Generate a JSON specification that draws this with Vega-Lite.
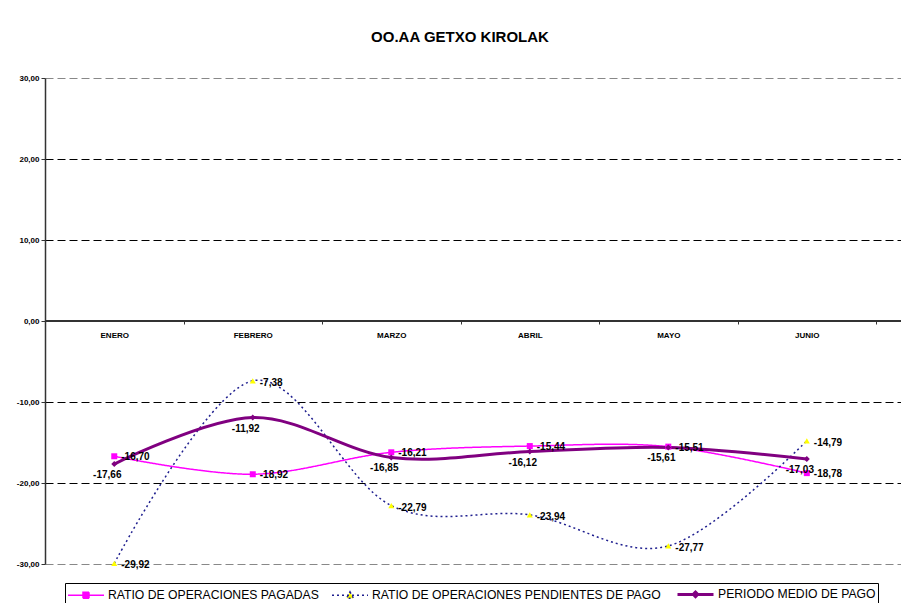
{
  "$schema": "https://vega.github.io/schema/vega-lite/v6.json",
  "width": 856,
  "height": 486,
  "autosize": "none",
  "padding": {"left": 45, "top": 78, "right": 0, "bottom": 39},
  "background": "white",
  "title": {"text": "OO.AA GETXO KIROLAK", "font": "Liberation Sans", "fontSize": 15, "fontWeight": "bold", "color": "black", "anchor": "middle", "frame": "group", "dx": -13, "offset": 17, "baseline": "alphabetic"},
  "config": {
    "locale": {"number": {"decimal": ",", "thousands": ".", "grouping": [3], "currency": ["", " €"], "minus": "-"}},
    "view": {"stroke": null},
    "font": "Liberation Sans",
    "legend": {
      "orient": "none", "legendX": 20, "legendY": 505, "direction": "horizontal",
      "strokeColor": "black", "padding": 2, "fillColor": "white",
      "labelFont": "Liberation Sans", "labelFontSize": 12.2, "labelColor": "black", "labelLimit": 500,
      "symbolSize": 225, "labelOffset": 24, "columnPadding": 10, "symbolOpacity": 1
    }
  },
  "data": {"values": [
    {"mes": "ENERO", "s": "RATIO DE OPERACIONES PAGADAS", "v": -16.70},
    {"mes": "FEBRERO", "s": "RATIO DE OPERACIONES PAGADAS", "v": -18.92},
    {"mes": "MARZO", "s": "RATIO DE OPERACIONES PAGADAS", "v": -16.21},
    {"mes": "ABRIL", "s": "RATIO DE OPERACIONES PAGADAS", "v": -15.44},
    {"mes": "MAYO", "s": "RATIO DE OPERACIONES PAGADAS", "v": -15.51},
    {"mes": "JUNIO", "s": "RATIO DE OPERACIONES PAGADAS", "v": -18.78},
    {"mes": "ENERO", "s": "RATIO DE OPERACIONES PENDIENTES DE PAGO", "v": -29.92},
    {"mes": "FEBRERO", "s": "RATIO DE OPERACIONES PENDIENTES DE PAGO", "v": -7.38},
    {"mes": "MARZO", "s": "RATIO DE OPERACIONES PENDIENTES DE PAGO", "v": -22.79},
    {"mes": "ABRIL", "s": "RATIO DE OPERACIONES PENDIENTES DE PAGO", "v": -23.94},
    {"mes": "MAYO", "s": "RATIO DE OPERACIONES PENDIENTES DE PAGO", "v": -27.77},
    {"mes": "JUNIO", "s": "RATIO DE OPERACIONES PENDIENTES DE PAGO", "v": -14.79},
    {"mes": "ENERO", "s": "PERIODO MEDIO DE PAGO", "v": -17.66},
    {"mes": "FEBRERO", "s": "PERIODO MEDIO DE PAGO", "v": -11.92},
    {"mes": "MARZO", "s": "PERIODO MEDIO DE PAGO", "v": -16.85},
    {"mes": "ABRIL", "s": "PERIODO MEDIO DE PAGO", "v": -16.12},
    {"mes": "MAYO", "s": "PERIODO MEDIO DE PAGO", "v": -15.61},
    {"mes": "JUNIO", "s": "PERIODO MEDIO DE PAGO", "v": -17.03}
  ]},
  "resolve": {
    "scale": {"shape": "independent"},
    "legend": {"shape": "independent", "fill": "independent", "stroke": "independent", "strokeDash": "independent", "strokeWidth": "independent"}
  },
  "layer": [
    {
      "mark": {"type": "rule", "color": "#333333", "strokeWidth": 1.5},
      "encoding": {"y": {"datum": 0, "type": "quantitative", "scale": {"domain": [-30, 30], "nice": false, "zero": false},
        "axis": {"title": null, "values": [-30, -20, -10, 0, 10, 20, 30], "format": ".2f",
          "domainColor": "#333333", "domainWidth": 1.5, "tickColor": "#333333", "tickSize": 4,
          "labelFont": "Liberation Sans", "labelFontSize": 8, "labelFontWeight": "bold", "labelColor": "black", "labelPadding": 2,
          "grid": true, "gridColor": {"condition": {"test": "abs(datum.value) == 30", "value": "#888888"}, "value": "black"},
          "gridDash": [8, 4], "gridWidth": 1}}}
    },
    {
      "transform": [{"filter": "datum.s != 'PERIODO MEDIO DE PAGO'"}],
      "mark": {"type": "line", "interpolate": "cardinal", "strokeWidth": 1.5},
      "encoding": {
        "x": {"field": "mes", "type": "nominal", "sort": ["ENERO", "FEBRERO", "MARZO", "ABRIL", "MAYO", "JUNIO"],
          "scale": {"type": "band", "domain": ["ENERO", "FEBRERO", "MARZO", "ABRIL", "MAYO", "JUNIO"], "paddingInner": 0, "paddingOuter": 0.09, "align": 0},
          "axis": {"title": null, "orient": "bottom", "offset": -243, "domain": false, "tickColor": "#333333", "tickSize": 3, "tickBand": "extent",
            "labelFont": "Liberation Sans", "labelFontSize": 8, "labelFontWeight": "bold", "labelColor": "black", "labelPadding": 7, "labelAngle": 0, "grid": false}},
        "y": {"field": "v", "type": "quantitative"},
        "stroke": {"field": "s", "type": "nominal", "scale": {"domain": ["RATIO DE OPERACIONES PAGADAS", "RATIO DE OPERACIONES PENDIENTES DE PAGO", "PERIODO MEDIO DE PAGO"], "range": ["#FF00FF", "#1F1F8F", "#800080"]}, "legend": null},
        "strokeDash": {"field": "s", "type": "nominal", "scale": {"domain": ["RATIO DE OPERACIONES PAGADAS", "RATIO DE OPERACIONES PENDIENTES DE PAGO", "PERIODO MEDIO DE PAGO"], "range": [[1, 0], [2, 3], [1, 0]]}, "legend": null}
      }
    },
    {
      "transform": [{"filter": "datum.s == 'PERIODO MEDIO DE PAGO'"}],
      "mark": {"type": "line", "interpolate": "cardinal", "strokeWidth": 3},
      "encoding": {
        "x": {"field": "mes", "type": "nominal", "sort": ["ENERO", "FEBRERO", "MARZO", "ABRIL", "MAYO", "JUNIO"]},
        "y": {"field": "v", "type": "quantitative"},
        "stroke": {"field": "s", "type": "nominal", "legend": null}
      }
    },
    {
      "mark": {"type": "point", "filled": true, "opacity": 1, "size": 36},
      "encoding": {
        "x": {"field": "mes", "type": "nominal", "sort": ["ENERO", "FEBRERO", "MARZO", "ABRIL", "MAYO", "JUNIO"]},
        "y": {"field": "v", "type": "quantitative"},
        "shape": {"field": "s", "type": "nominal", "scale": {"domain": ["RATIO DE OPERACIONES PAGADAS", "RATIO DE OPERACIONES PENDIENTES DE PAGO", "PERIODO MEDIO DE PAGO"], "range": ["square", "triangle-up", "diamond"]}, "legend": null},
        "fill": {"field": "s", "type": "nominal", "scale": {"domain": ["RATIO DE OPERACIONES PAGADAS", "RATIO DE OPERACIONES PENDIENTES DE PAGO", "PERIODO MEDIO DE PAGO"], "range": ["#FF00FF", "#FFFF00", "#800080"]}, "legend": null}
      }
    },
    {
      "transform": [{"filter": "datum.s == 'RATIO DE OPERACIONES PAGADAS'"}],
      "mark": {"type": "text", "align": "left", "baseline": "middle", "dx": 7, "dy": 1, "font": "Liberation Sans", "fontSize": 10, "fontWeight": "bold", "color": "black"},
      "encoding": {
        "x": {"field": "mes", "type": "nominal", "sort": ["ENERO", "FEBRERO", "MARZO", "ABRIL", "MAYO", "JUNIO"]},
        "y": {"field": "v", "type": "quantitative"},
        "text": {"field": "v", "type": "quantitative", "format": ".2f"}
      }
    },
    {
      "transform": [{"filter": "datum.s == 'RATIO DE OPERACIONES PENDIENTES DE PAGO'"}],
      "mark": {"type": "text", "align": "left", "baseline": "middle", "dx": 7, "dy": 2, "font": "Liberation Sans", "fontSize": 10, "fontWeight": "bold", "color": "black"},
      "encoding": {
        "x": {"field": "mes", "type": "nominal", "sort": ["ENERO", "FEBRERO", "MARZO", "ABRIL", "MAYO", "JUNIO"]},
        "y": {"field": "v", "type": "quantitative"},
        "text": {"field": "v", "type": "quantitative", "format": ".2f"}
      }
    },
    {
      "transform": [{"filter": "datum.s == 'PERIODO MEDIO DE PAGO'"}],
      "mark": {"type": "text", "align": "center", "baseline": "middle", "dx": -7, "dy": 11, "font": "Liberation Sans", "fontSize": 10, "fontWeight": "bold", "color": "black"},
      "encoding": {
        "x": {"field": "mes", "type": "nominal", "sort": ["ENERO", "FEBRERO", "MARZO", "ABRIL", "MAYO", "JUNIO"]},
        "y": {"field": "v", "type": "quantitative"},
        "text": {"field": "v", "type": "quantitative", "format": ".2f"}
      }
    },
    {
      "transform": [{"filter": "false"}],
      "mark": {"type": "point", "filled": true, "opacity": 1},
      "encoding": {
        "x": {"field": "mes", "type": "nominal", "sort": ["ENERO", "FEBRERO", "MARZO", "ABRIL", "MAYO", "JUNIO"]},
        "y": {"field": "v", "type": "quantitative"},
        "shape": {"field": "s", "type": "nominal", "scale": {"domain": ["RATIO DE OPERACIONES PAGADAS", "RATIO DE OPERACIONES PENDIENTES DE PAGO", "PERIODO MEDIO DE PAGO"],
          "range": ["M-1,0H3.8M1,-0.4H1.8V0.4H1Z", "M-1,0H3.8M1.4,-0.45L1.85,0.4H0.95Z", "M-1,0H3.8M1.4,-0.3L1.7,0L1.4,0.3L1.1,0Z"]}, "legend": {"title": null}},
        "fill": {"field": "s", "type": "nominal", "legend": {"title": null}},
        "stroke": {"field": "s", "type": "nominal", "legend": {"title": null}},
        "strokeDash": {"field": "s", "type": "nominal", "legend": {"title": null}},
        "strokeWidth": {"field": "s", "type": "nominal", "scale": {"type": "ordinal", "domain": ["RATIO DE OPERACIONES PAGADAS", "RATIO DE OPERACIONES PENDIENTES DE PAGO", "PERIODO MEDIO DE PAGO"], "range": [1.5, 1.5, 3]}, "legend": {"title": null}}
      }
    }
  ]
}
